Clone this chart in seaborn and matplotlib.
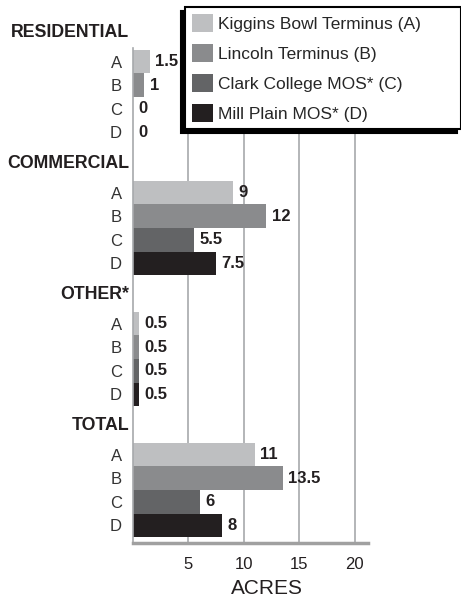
import pandas as pd
import matplotlib.pyplot as plt
import matplotlib.transforms as mtransforms
import matplotlib.font_manager as fm
import seaborn as sns

# data
groups = ['RESIDENTIAL', 'COMMERCIAL', 'OTHER*', 'TOTAL']
options = ['Kiggins Bowl Terminus (A)', 'Lincoln Terminus (B)',
           'Clark College MOS* (C)', 'Mill Plain MOS* (D)']
letters = ['A', 'B', 'C', 'D']
kiggins = [1.5, 9, 0.5, 11]
lincoln = [1, 12, 0.5, 13.5]
clark = [0, 5.5, 0.5, 6]
mill_plain = [0, 7.5, 0.5, 8]
xticks = [5, 10, 15, 20]
colors = ['#bebfc1', '#8a8b8d', '#636466', '#231f20']

rows = []
for opt, vals in zip(options, [kiggins, lincoln, clark, mill_plain]):
    for g, v in zip(groups, vals):
        rows.append({'group': g, 'option': opt, 'acres': v})
df = pd.DataFrame(rows)

sns.set_theme(style='white')
avail = {f.name for f in fm.fontManager.ttflist}
if 'Liberation Sans Narrow' in avail:
    NARROW, K = 'Liberation Sans Narrow', 1.22
else:
    NARROW, K = 'Liberation Sans', 1.0
plt.rcParams['font.family'] = ['Liberation Sans', 'DejaVu Sans']

fig = plt.figure(figsize=(4.61, 5.98), dpi=100)
ax = fig.add_axes([0.2885, 0.092, 0.5098, 0.8278])

sns.barplot(data=df, x='acres', y='group', hue='option', orient='h',
            palette=colors, width=0.72, saturation=1, errorbar=None,
            linewidth=0, edgecolor='none', ax=ax)

ax.set_xlim(0, 21.2)
ax.set_ylim(3.405, -0.375)
ax.set_xticks(xticks)
ax.tick_params(axis='x', length=0, pad=10, labelsize=12, labelcolor='#231f20')
ax.tick_params(axis='y', length=0, pad=8, labelsize=12, labelcolor='#333333')

# one tick per bar, labelled A-D
pos, labs = [], []
for cont, letter in zip(ax.containers, letters):
    for bar in cont:
        pos.append(bar.get_y() + bar.get_height() / 2)
        labs.append(letter)
    ax.bar_label(cont, fmt='{:g}', padding=4, fontweight='bold',
                 fontsize=12 * K, family=NARROW, color='#231f20')
ax.set_yticks(pos, labs)
ax.set_ylabel('')

# group headers
trans = mtransforms.blended_transform_factory(ax.transAxes, ax.transData)
for i, g in enumerate(groups):
    ax.text(-0.015, i - 0.49, g, transform=trans, ha='right', va='center',
            fontweight='bold', fontsize=12.8 * K, family=NARROW,
            color='#231f20', clip_on=False)

ax.grid(axis='x', color='#a7a9ac', lw=1.2)
ax.grid(axis='y', visible=False)
ax.set_axisbelow(True)
sns.despine(ax=ax)
ax.spines['left'].set_color('#a7a9ac')
ax.spines['left'].set_linewidth(1.2)
ax.spines['bottom'].set_color('#a0a0a0')
ax.spines['bottom'].set_linewidth(2.5)

ax.set_xlabel('ACRES', fontsize=15, color='#231f20')
ax.xaxis.set_label_coords(0.57, -0.072)

sns.move_legend(ax, 'upper left', bbox_to_anchor=(0.401, 0.5, 0.599, 0.488),
                bbox_transform=fig.transFigure, mode='expand', borderaxespad=0,
                title=None, frameon=True, fancybox=False, framealpha=1,
                edgecolor='black',
                prop={'family': NARROW, 'size': 12.5 * K},
                handlelength=1.2 / K, handleheight=1.2 / K,
                handletextpad=0.3, labelspacing=0.7, borderpad=0.4,
                shadow={'ox': -3, 'oy': -3, 'shade': 1.0, 'alpha': 1})
ax.get_legend().get_frame().set_linewidth(1.5)

fig.savefig('out.png', dpi=100)
